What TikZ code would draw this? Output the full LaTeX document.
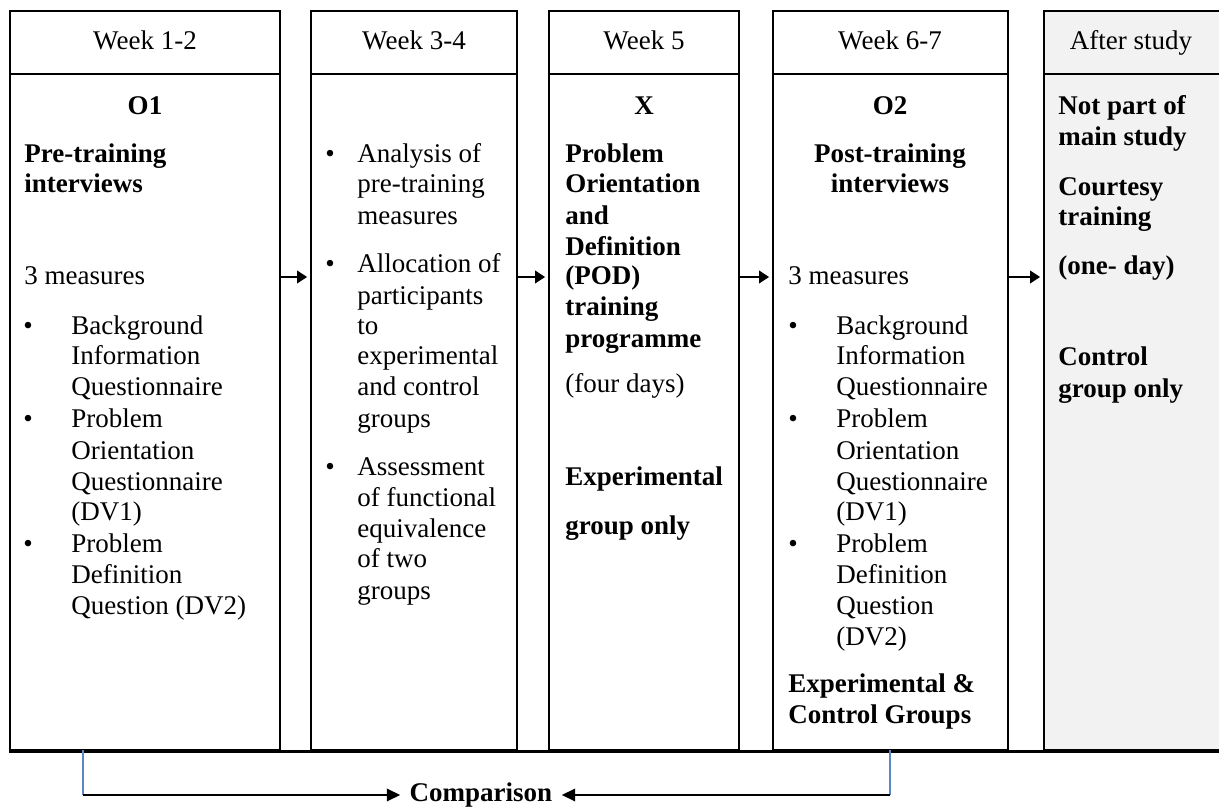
\documentclass[12pt,tikz,border=0pt]{standalone}
\usepackage{fontspec}
\setmainfont{Liberation Serif}
\usetikzlibrary{arrows.meta,fit}
\definecolor{shade}{HTML}{F2F2F2}
\definecolor{footblue}{HTML}{5B87C5}
\tikzset{
  colbox/.style={draw, line width=1pt, inner sep=0pt},
  txt/.style={anchor=base west, inner sep=0pt},
  ctr/.style={anchor=base, inner sep=0pt},
  bld/.style={font=\bfseries},
  steparrow/.style={line width=1.1pt, shorten >=1.2pt, -{Triangle[length=4.5pt,width=5.5pt]}},
  cmparrow/.style={line width=1pt, -{Triangle[length=6pt,width=5.5pt]}},
  footline/.style={draw=footblue, line width=0.5pt}
}
\begin{document}
\begin{tikzpicture}[x=0.4444pt, y=-0.4444pt]
\useasboundingbox (0,0) rectangle (1219,809);
% columns
\node[colbox, fit={(10,11) (280,750)}] (c1) {};
\node[colbox, fit={(311,11) (517,750)}] (c2) {};
\node[colbox, fit={(549,11) (739,750)}] (c3) {};
\node[colbox, fit={(773,11) (1008,750)}] (c4) {};
\node[colbox, fill=shade, fit={(1044,11) (1240,750)}] (c5) {};
\draw[line width=1.3pt] (c1.south west) -- (c5.south east);
\coordinate (hy) at (0,74);
\foreach \c in {c1,c2,c3,c4,c5}
  \draw[line width=1pt] (\c.west |- hy) -- (\c.east |- hy);

% headers
\node[ctr] (h1) at (145,50) {Week 1-2};
\node[ctr] (h2) at (414,50) {Week 3-4};
\node[ctr] (h3) at (644,50) {Week 5};
\node[ctr] (h4) at (890,50) {Week 6-7};
\node[ctr] (h5) at (1131,50) {After study};

% week 1-2
\node[ctr,bld] (o1) at (145,115) {O1};
\foreach \y/\t in {155/Pre-training,185/interviews}
  \node[txt,bld] (c1b\y) at (24,\y+8) {\t};
\node[txt] (c1m) at (24,285) {3 measures};
\foreach \y in {327,420,545}
  \node[ctr] (c1d\y) at (28,\y+8) {\textbullet};
\foreach \y/\t in {327/Background,357/Information,388/Questionnaire,420/Problem,452/Orientation,483/Questionnaire,513/(DV1),545/Problem,576/Definition,607/Question (DV2)}
  \node[txt] (c1i\y) at (71,\y+8) {\t};

% week 3-4
\foreach \y in {155,265,468}
  \node[ctr] (c2d\y) at (330,\y+8) {\textbullet};
\foreach \y/\t in {155/Analysis of,185/pre-training,217/measures,265/Allocation of,297/participants,327/to,357/experimental,388/and control,420/groups,468/Assessment,499/of functional,530/equivalence,560/of two,592/groups}
  \node[txt] (c2i\y) at (357,\y+8) {\t};

% week 5
\node[ctr,bld] (x) at (644,115) {X};
\foreach \y/\t in {155/Problem,185/Orientation,217/and,248/Definition,277/(POD),308/training,340/programme,478/Experimental,527/group only}
  \node[txt,bld] (c3b\y) at (565,\y+8) {\t};
\node[txt] (c3d) at (565,393) {(four days)};

% week 6-7
\node[ctr,bld] (o2) at (890,115) {O2};
\node[ctr,bld] (c4b1) at (890,163) {Post-training};
\node[ctr,bld] (c4b2) at (890,193) {interviews};
\node[txt] (c4m) at (788,285) {3 measures};
\foreach \y in {327,420,545}
  \node[ctr] (c4d\y) at (793,\y+8) {\textbullet};
\foreach \y/\t in {327/Background,357/Information,388/Questionnaire,420/Problem,452/Orientation,483/Questionnaire,513/(DV1),545/Problem,576/Definition,607/Question,638/(DV2)}
  \node[txt] (c4i\y) at (836,\y+8) {\t};
\foreach \y/\t in {685/Experimental \&,716/Control Groups}
  \node[txt,bld] (c4g\y) at (788,\y+8) {\t};

% after study
\foreach \y/\t in {107/Not part of,138/main study,188/Courtesy,218/training,267/(one- day),358/Control,390/group only}
  \node[txt,bld] (c5b\y) at (1058,\y+8) {\t};

% arrows between weeks
\coordinate (ay) at (0,277);
\draw[steparrow] (c1.east |- ay) -- (c2.west |- ay);
\draw[steparrow] (c2.east |- ay) -- (c3.west |- ay);
\draw[steparrow] (c3.east |- ay) -- (c4.west |- ay);
\draw[steparrow] (c4.east |- ay) -- (c5.west |- ay);

% comparison
\node[bld] (cmp) at (481,795) {Comparison};
\coordinate (lfoot) at (83,750);
\coordinate (lturn) at (83,795);
\coordinate (rfoot) at (890,750);
\coordinate (rturn) at (890,795);
\draw[footline] (lfoot) -- (lturn);
\draw[footline] (rfoot) -- (rturn);
\draw[cmparrow] (lturn) -- (cmp.west);
\draw[cmparrow] (rturn) -- (cmp.east);
\end{tikzpicture}
\end{document}
